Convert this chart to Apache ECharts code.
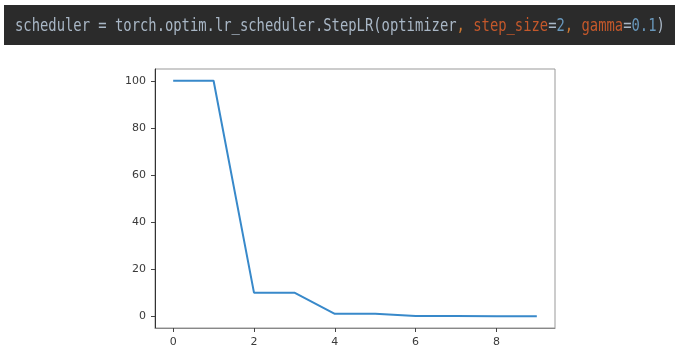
<!DOCTYPE html>
<html>
<head>
<meta charset="utf-8">
<script src="https://cdn.jsdelivr.net/npm/echarts@6/dist/echarts.min.js"></script>
<style>
html,body{margin:0;padding:0;background:#fff;}
#c{width:679px;height:348px;}
</style>
</head>
<body>
<div id="c"></div>
<script>
const epochs = [0, 1, 2, 3, 4, 5, 6, 7, 8, 9];
const lrValues = [100, 100, 10, 10, 1, 1, 0.1, 0.1, 0.01, 0.01];
const xTicks = [0, 2, 4, 6, 8];
const yTicks = [0, 20, 40, 60, 80, 100];
const codeParts = [
  ['d', 'scheduler = torch.optim.lr_scheduler.StepLR(optimizer'],
  ['p', ', '],
  ['k', 'step_size'],
  ['d', '='],
  ['n', '2'],
  ['p', ', '],
  ['k', 'gamma'],
  ['d', '='],
  ['n', '0.1'],
  ['d', ')']
];

const chart = echarts.init(document.getElementById('c'), null, {renderer: 'canvas'});
const tickFont = {fontFamily: 'DejaVu Sans', fontSize: 11, color: '#3a3a3a'};
const codeText = codeParts.map(p => '{' + p[0] + '|' + p[1] + '}').join('');
const mono = {fontFamily: 'DejaVu Sans Mono', fontSize: 17};

chart.setOption({
  animation: false,
  backgroundColor: '#fff',
  graphic: [
    {type: 'rect', left: 4, top: 5, shape: {width: 671, height: 40}, style: {fill: '#2b2b2b'}, silent: true},
    {type: 'text', x: 15, y: 27, scaleX: 0.814, scaleY: 1.0, originX: 0, originY: 0,
     style: {
       text: codeText,
       verticalAlign: 'middle',
       font: '17px "DejaVu Sans Mono"',
       rich: {
         d: Object.assign({fill: '#a9b7c6'}, mono),
         p: Object.assign({fill: '#cc7832'}, mono),
         k: Object.assign({fill: '#c4582b'}, mono),
         n: Object.assign({fill: '#6897bb'}, mono)
       }
     }, silent: true}
  ],
  grid: {left: 155, top: 69, right: 124, bottom: 19, show: true, borderColor: '#999', borderWidth: 1, backgroundColor: 'transparent'},
  xAxis: {
    type: 'value', min: -0.45, max: 9.45,
    splitLine: {show: false},
    axisLine: {show: true, onZero: false, lineStyle: {color: '#888', width: 1}},
    axisTick: {show: true, length: 4, customValues: xTicks, lineStyle: {color: '#444'}},
    axisLabel: Object.assign({margin: 9, customValues: xTicks}, tickFont)
  },
  yAxis: {
    type: 'value', min: -5, max: 105,
    splitLine: {show: false},
    axisLine: {show: true, onZero: false, lineStyle: {color: '#333', width: 1}},
    axisTick: {show: true, length: 4, customValues: yTicks, lineStyle: {color: '#444'}},
    axisLabel: Object.assign({margin: 9, customValues: yTicks}, tickFont)
  },
  series: [{
    type: 'line',
    data: epochs.map((e, i) => [e, lrValues[i]]),
    showSymbol: false,
    symbol: 'none',
    lineStyle: {color: '#3889ca', width: 2},
    silent: true
  }]
});
</script>
</body>
</html>
